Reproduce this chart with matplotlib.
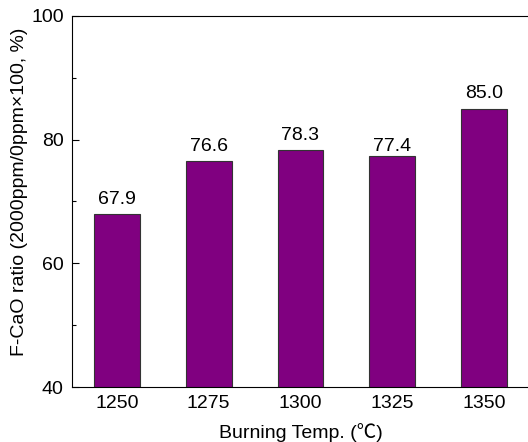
import matplotlib
matplotlib.use("Agg")
import matplotlib.pyplot as plt
from matplotlib.ticker import MultipleLocator

plt.rcParams['font.family'] = ['Liberation Sans', 'DejaVu Sans', 'Noto Sans CJK SC']

categories = ["1250", "1275", "1300", "1325", "1350"]
values = [67.9, 76.6, 78.3, 77.4, 85.0]
labels = ["67.9", "76.6", "78.3", "77.4", "85.0"]
label_y = [68.9, 77.6, 79.3, 77.5, 86.1]
yticks = [40, 60, 80, 100]

W, H = 528, 442
fig = plt.figure(figsize=(W / 100, H / 100), dpi=100)
ax = fig.add_axes([72 / W, 1 - 387 / H, (529 - 72) / W, (387 - 16) / H])

x = list(range(len(categories)))
ax.bar(x, values, width=0.5, color="#800080", edgecolor="#333333", linewidth=0.8, zorder=2)
for xi, ly, lab in zip(x, label_y, labels):
    ax.text(xi, ly, lab, ha="center", va="bottom", fontsize=14, zorder=3)

ax.set_xlim(-0.49, len(categories) - 0.51)
ax.set_ylim(40, 100)
ax.set_xticks(x)
ax.set_xticklabels(categories)
ax.set_yticks(yticks)
ax.yaxis.set_minor_locator(MultipleLocator(10))
ax.tick_params(axis="both", which="both", direction="in", labelsize=14, width=0.8)
ax.tick_params(axis="both", which="major", length=5, pad=6)
ax.tick_params(axis="y", which="minor", length=3)
ax.tick_params(axis="x", which="minor", bottom=False)
for s in ax.spines.values():
    s.set_linewidth(0.8)

ax.set_xlabel("Burning Temp. (\u2103)", fontsize=14, labelpad=8,
              family=['Liberation Sans', 'Noto Sans CJK SC', 'DejaVu Sans'])
ax.set_ylabel("F-CaO ratio (2000ppm/0ppm\u00d7100, %)", fontsize=14)
ax.yaxis.set_label_coords(-0.097, 0.525)

fig.savefig("out.png", dpi=100)
